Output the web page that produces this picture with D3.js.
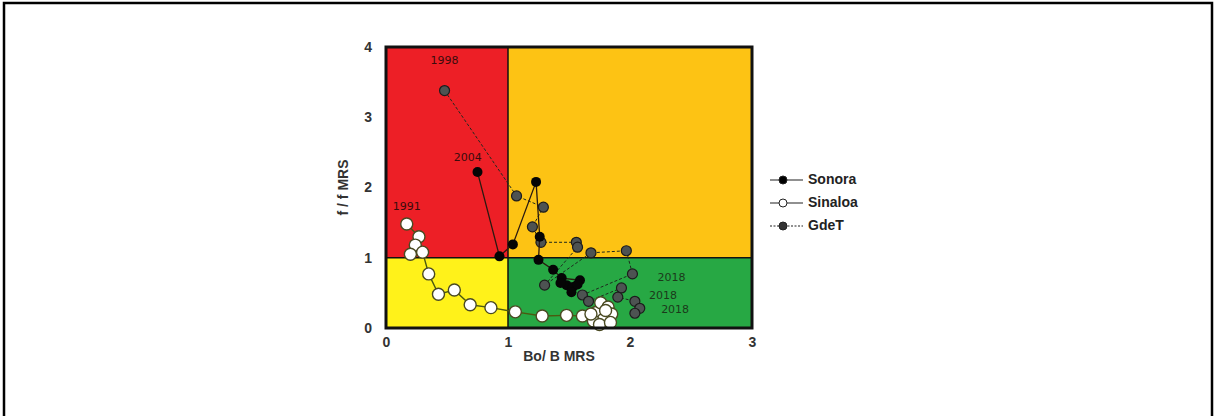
<!DOCTYPE html>
<html>
<head>
<meta charset="utf-8">
<script src="https://cdn.jsdelivr.net/npm/d3@7"></script>
<style>
  body { margin: 0; background: #fff; }
  svg { display: block; font-family: "Liberation Sans", Arial, sans-serif; }
</style>
</head>
<body>
<svg id="chart" width="1215" height="416"></svg>
<script>
// axis ticks
const xTicks = [0, 1, 2, 3]
const yTicks = [0, 1, 2, 3, 4]

// Sonora (black)
const sonoraBo = [0.75, 0.93, 1.04, 1.23, 1.26, 1.25, 1.37, 1.44, 1.59, 1.48, 1.53, 1.43, 1.52, 1.57]
const sonoraF  = [2.22, 1.02, 1.19, 2.08, 1.30, 0.97, 0.83, 0.71, 0.68, 0.61, 0.58, 0.64, 0.51, 0.62]

// Sinaloa (white)
const sinaloaBo = [0.17, 0.27, 0.24, 0.20, 0.30, 0.35, 0.43, 0.56, 0.69, 0.86, 1.06, 1.28, 1.48, 1.61, 1.72, 1.76, 1.82, 1.85, 1.78, 1.70, 1.75, 1.84, 1.80, 1.68]
const sinaloaF  = [1.48, 1.30, 1.18, 1.05, 1.08, 0.77, 0.48, 0.54, 0.33, 0.29, 0.23, 0.17, 0.18, 0.17, 0.22, 0.36, 0.30, 0.20, 0.12, 0.10, 0.05, 0.08, 0.25, 0.20]

// GdeT (grey, dashed)
const gdetBo = [0.48, 1.07, 1.29, 1.20, 1.27, 1.56, 1.57, 1.30, 1.68, 1.97, 2.02, 1.61, 1.66, 1.93, 1.90, 2.04, 2.08, 2.04]
const gdetF  = [3.38, 1.88, 1.72, 1.44, 1.22, 1.22, 1.15, 0.61, 1.07, 1.10, 0.77, 0.47, 0.38, 0.57, 0.44, 0.38, 0.28, 0.21]

// year labels [Bo, f, text]
const yearLabels = [
  [0.48, 3.8, '1998'],
  [0.67, 2.42, '2004'],
  [0.17, 1.72, '1991'],
  [2.34, 0.71, '2018'],
  [2.27, 0.45, '2018'],
  [2.37, 0.26, '2018']
]

const zones = [
  { x0: 0, x1: 1, y0: 1, y1: 4, color: '#ed1f26' },
  { x0: 1, x1: 3, y0: 1, y1: 4, color: '#fdc314' },
  { x0: 0, x1: 1, y0: 0, y1: 1, color: '#fff21a' },
  { x0: 1, x1: 3, y0: 0, y1: 1, color: '#27a844' }
]

const svg = d3.select('#chart')
const x = d3.scaleLinear().domain([0, 3]).range([386, 752])
const y = d3.scaleLinear().domain([0, 4]).range([328, 47])

// outer frame
svg.append('rect')
  .attr('x', 4).attr('y', 3).attr('width', 1208).attr('height', 420)
  .attr('fill', 'none').attr('stroke', '#000').attr('stroke-width', 2.5)

svg.selectAll('rect.zone').data(zones).join('rect')
  .classed('zone', true)
  .attr('x', d => x(d.x0)).attr('y', d => y(d.y1))
  .attr('width', d => x(d.x1) - x(d.x0)).attr('height', d => y(d.y0) - y(d.y1))
  .attr('fill', d => d.color)

// dividing lines
svg.append('line').attr('x1', x(1)).attr('x2', x(1)).attr('y1', y(0)).attr('y2', y(4))
  .attr('stroke', '#111').attr('stroke-width', 1.5)
svg.append('line').attr('x1', x(0)).attr('x2', x(3)).attr('y1', y(1)).attr('y2', y(1))
  .attr('stroke', '#111').attr('stroke-width', 1.5)

const toPts = (bx, fy) => bx.map((v, i) => [v, fy[i]])
const line = d3.line().x(d => x(d[0])).y(d => y(d[1]))

// GdeT
const gdet = toPts(gdetBo, gdetF)
svg.append('path').attr('d', line(gdet)).attr('fill', 'none')
  .attr('stroke', '#1e2a1e').attr('stroke-width', 1).attr('stroke-dasharray', '3,2')
svg.append('g').selectAll('circle').data(gdet).join('circle')
  .attr('cx', d => x(d[0])).attr('cy', d => y(d[1])).attr('r', 5)
  .attr('fill', '#4d5352').attr('stroke', '#1c1c1c').attr('stroke-width', 1.2)

// Sonora
const sonora = toPts(sonoraBo, sonoraF)
svg.append('path').attr('d', line(sonora)).attr('fill', 'none')
  .attr('stroke', '#2a1a10').attr('stroke-width', 1.3)
svg.append('g').selectAll('circle').data(sonora).join('circle')
  .attr('cx', d => x(d[0])).attr('cy', d => y(d[1])).attr('r', 5)
  .attr('fill', '#050505')

// Sinaloa
const sinaloa = toPts(sinaloaBo, sinaloaF)
svg.append('path').attr('d', line(sinaloa)).attr('fill', 'none')
  .attr('stroke', '#4b5a10').attr('stroke-width', 1.4)
svg.append('g').selectAll('circle').data(sinaloa).join('circle')
  .attr('cx', d => x(d[0])).attr('cy', d => y(d[1])).attr('r', 6)
  .attr('fill', '#fff').attr('stroke', '#4a4a22').attr('stroke-width', 1.4)

// plot frame
svg.append('rect')
  .attr('x', x(0)).attr('y', y(4)).attr('width', x(3) - x(0)).attr('height', y(0) - y(4))
  .attr('fill', 'none').attr('stroke', '#111').attr('stroke-width', 3)

svg.selectAll('text.year').data(yearLabels).join('text')
  .classed('year', true)
  .attr('x', d => x(d[0])).attr('y', d => y(d[1]))
  .attr('text-anchor', 'middle').attr('dominant-baseline', 'middle')
  .attr('font-family', '"DejaVu Sans", sans-serif')
  .attr('font-size', 11)
  .attr('fill', (d, i) => i < 3 ? '#3a0c0c' : '#1b3a1b')
  .text(d => d[2])

// axes
const xg = svg.append('g').attr('transform', `translate(0,${y(0) + 3})`)
  .call(d3.axisBottom(x).tickValues(xTicks).tickFormat(d3.format('d')).tickSize(0).tickPadding(6))
xg.select('.domain').remove()
xg.selectAll('text').attr('font-family', '"Liberation Sans", Arial, sans-serif')
  .attr('font-size', 14).attr('font-weight', 'bold').attr('fill', '#333')

const yg = svg.append('g').attr('transform', `translate(${x(0) - 8},0)`)
  .call(d3.axisLeft(y).tickValues(yTicks).tickFormat(d3.format('d')).tickSize(0).tickPadding(6))
yg.select('.domain').remove()
yg.selectAll('text').attr('font-family', '"Liberation Sans", Arial, sans-serif')
  .attr('font-size', 14).attr('font-weight', 'bold').attr('fill', '#333')

svg.append('text').attr('x', x(1.5) - 10).attr('y', 357)
  .attr('text-anchor', 'middle').attr('dominant-baseline', 'middle')
  .attr('font-size', 14).attr('font-weight', 'bold').attr('fill', '#333')
  .text('Bo/ B MRS')

svg.append('text').attr('transform', `translate(344,${y(2)}) rotate(-90)`)
  .attr('text-anchor', 'middle').attr('dominant-baseline', 'middle')
  .attr('font-size', 14).attr('font-weight', 'bold').attr('fill', '#333')
  .text('f / f MRS')

// legend
const legendItems = ['Sonora', 'Sinaloa', 'GdeT']
const legend = svg.append('g').attr('transform', 'translate(770,180)')
legendItems.forEach((name, i) => {
  const g = legend.append('g').attr('transform', `translate(0,${i * 23})`)
  g.append('line').attr('x1', 0).attr('x2', 33).attr('y1', 0).attr('y2', 0)
    .attr('stroke', '#222').attr('stroke-width', 1.2)
    .attr('stroke-dasharray', i === 2 ? '2,1.5' : null)
  g.append('circle').attr('cx', 13).attr('cy', 0).attr('r', 4)
    .attr('fill', i === 0 ? '#000' : i === 1 ? '#fff' : '#333')
    .attr('stroke', '#222').attr('stroke-width', 1)
  g.append('text').attr('x', 38).attr('y', 0).attr('dominant-baseline', 'middle')
    .attr('font-size', 14).attr('font-weight', 'bold').attr('fill', '#222')
    .text(name)
})
</script>
</body>
</html>
